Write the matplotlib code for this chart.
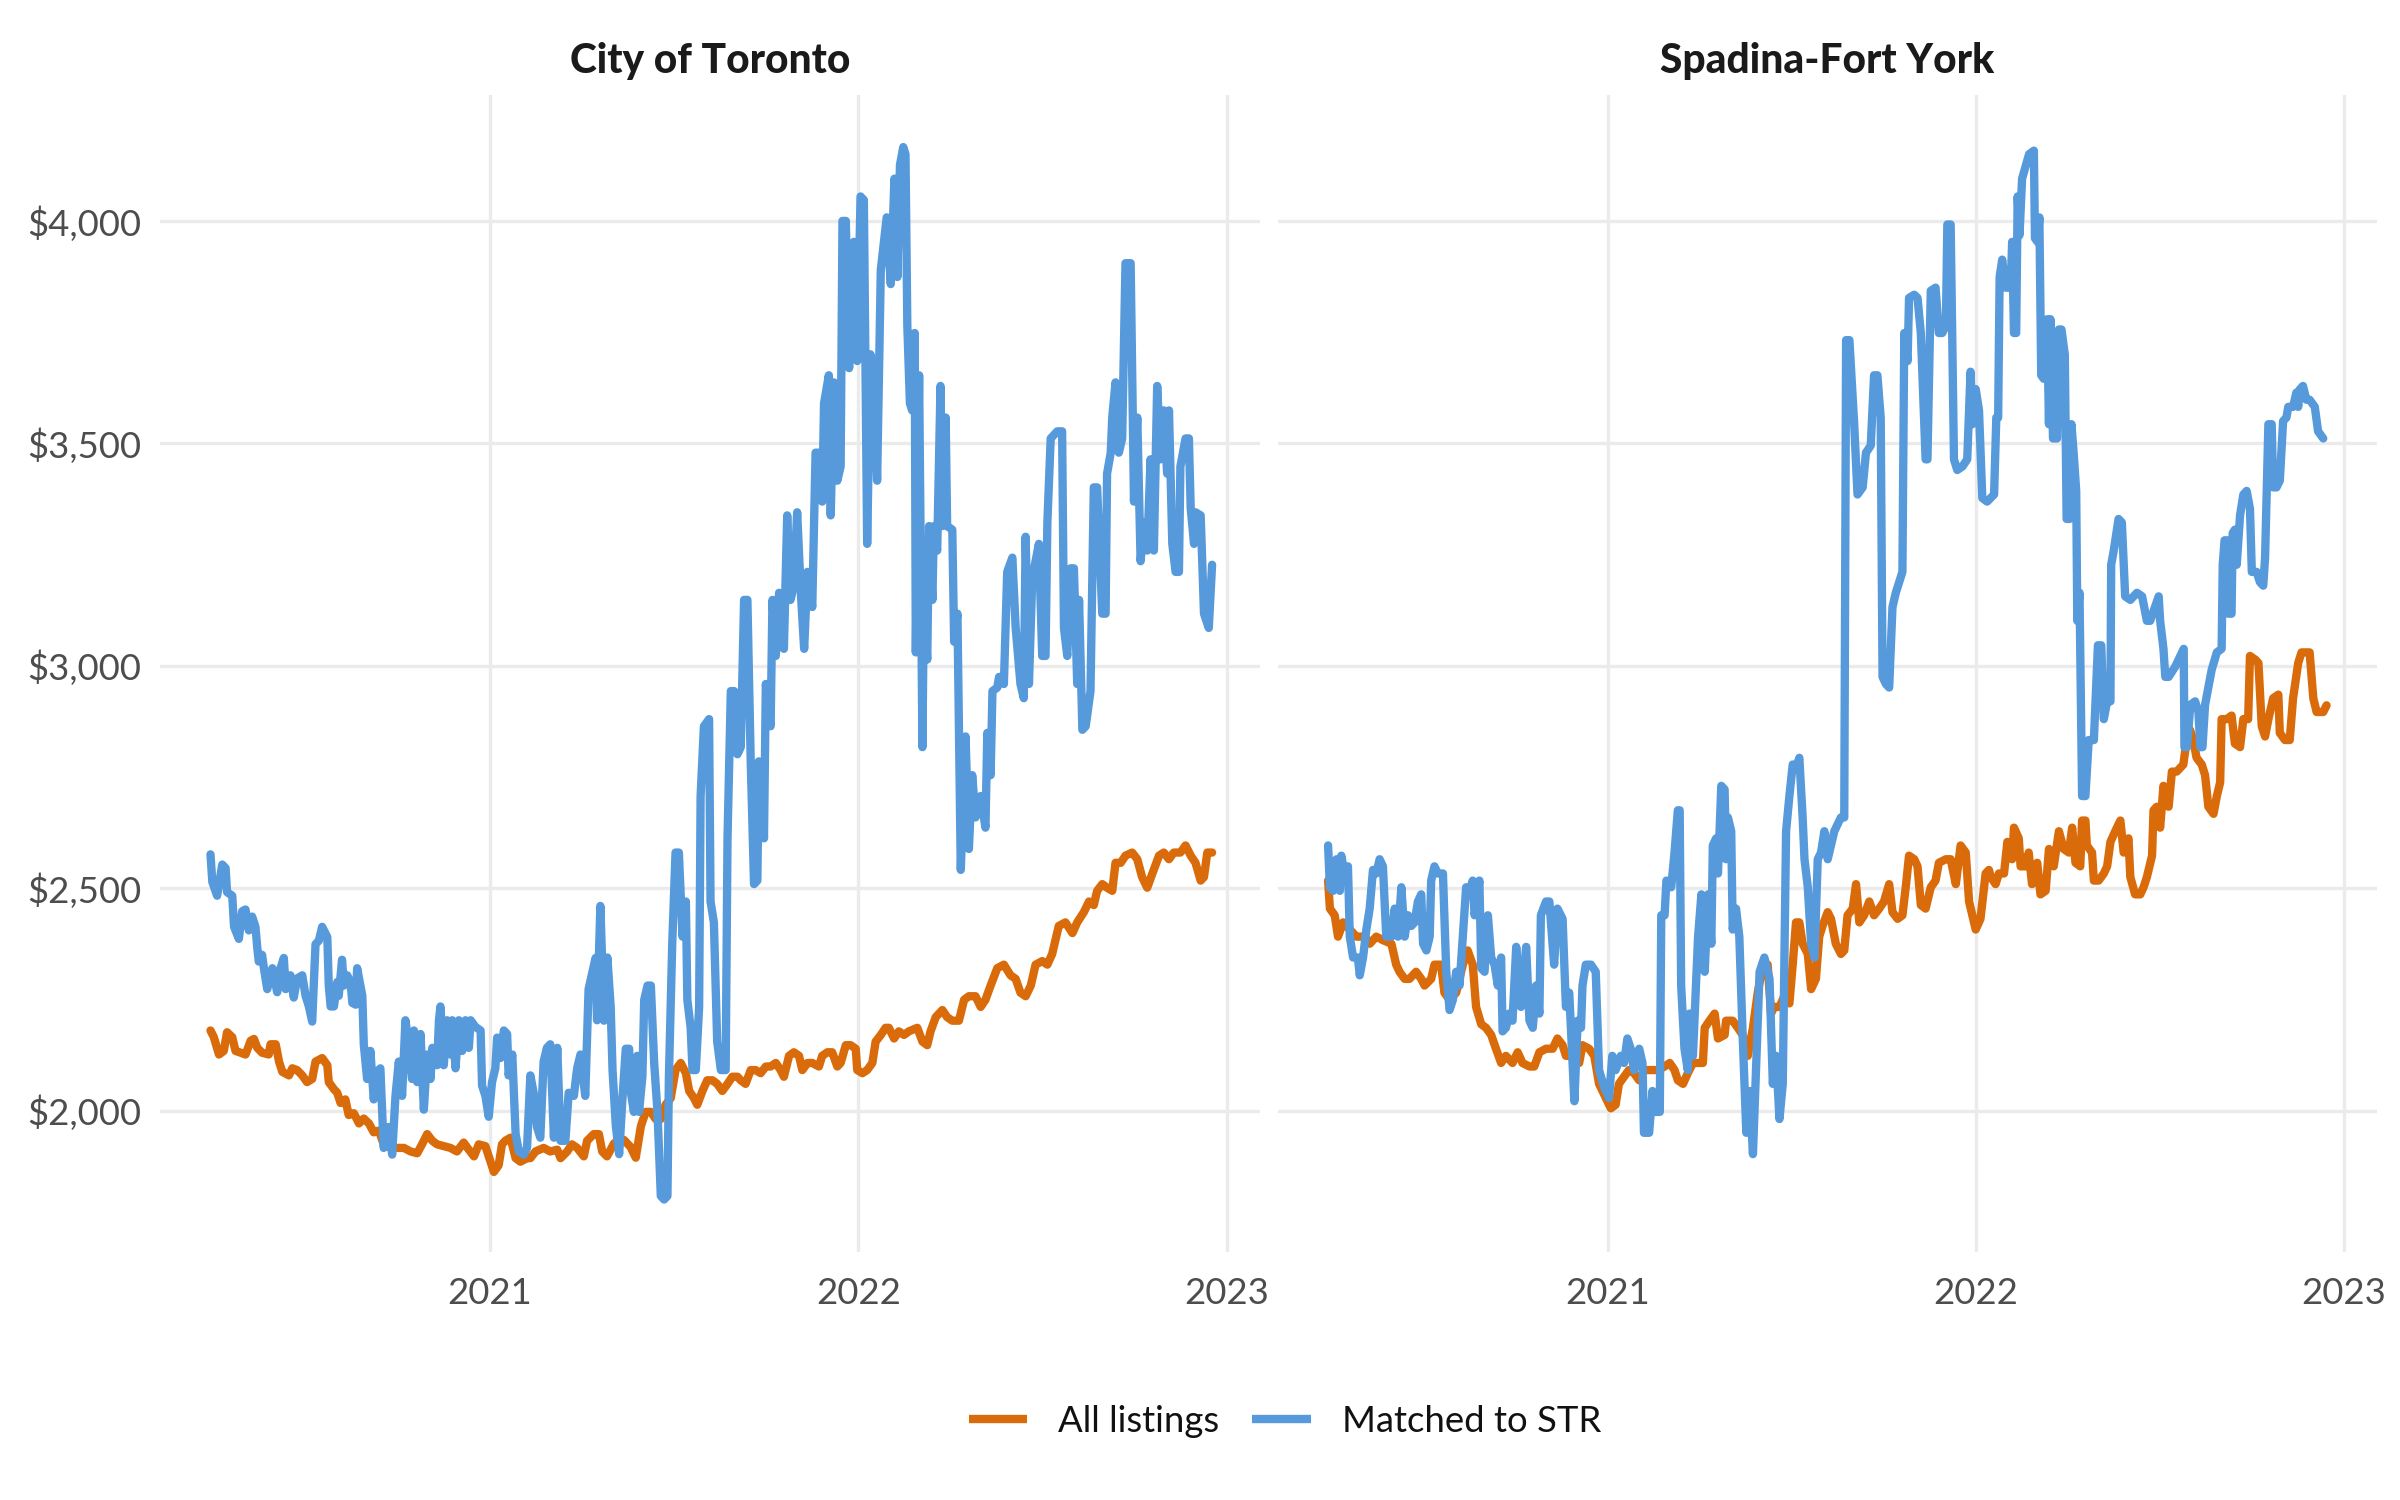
import matplotlib
matplotlib.use("Agg")
import matplotlib.pyplot as plt
from matplotlib.lines import Line2D

# ---------------- data ----------------
panel_titles = ["City of Toronto", "Spadina-Fort York"]
series_labels = ["All listings", "Matched to STR"]
x_ticks = [2021, 2022, 2023]
x_tick_labels = ["2021", "2022", "2023"]
y_ticks = [2000, 2500, 3000, 3500, 4000]
y_tick_labels = ["$2,000", "$2,500", "$3,000", "$3,500", "$4,000"]

# City of Toronto - Matched to STR (date as decimal year, monthly rent $)
city_str_t = [
    2020.242, 2020.247, 2020.260, 2020.274, 2020.283, 2020.287, 2020.301, 2020.306, 2020.319, 2020.328,
    2020.337, 2020.346, 2020.355, 2020.364, 2020.369, 2020.373, 2020.382, 2020.387, 2020.396, 2020.410,
    2020.423, 2020.432, 2020.441, 2020.446, 2020.459, 2020.468, 2020.477, 2020.491, 2020.500, 2020.509,
    2020.518, 2020.527, 2020.536, 2020.545, 2020.559, 2020.563, 2020.568, 2020.577, 2020.586, 2020.590,
    2020.599, 2020.604, 2020.613, 2020.622, 2020.627, 2020.636, 2020.640, 2020.654, 2020.658, 2020.667,
    2020.676, 2020.685, 2020.694, 2020.703, 2020.708, 2020.712, 2020.726, 2020.735, 2020.744, 2020.753,
    2020.762, 2020.771, 2020.780, 2020.789, 2020.794, 2020.803, 2020.812, 2020.821, 2020.830, 2020.839,
    2020.844, 2020.857, 2020.862, 2020.866, 2020.875, 2020.884, 2020.893, 2020.898, 2020.907, 2020.916,
    2020.925, 2020.934, 2020.943, 2020.948, 2020.961, 2020.975, 2020.979, 2020.988, 2020.997, 2021.006,
    2021.015, 2021.020, 2021.029, 2021.038, 2021.047, 2021.051, 2021.061, 2021.070, 2021.079, 2021.092,
    2021.101, 2021.110, 2021.119, 2021.128, 2021.137, 2021.146, 2021.155, 2021.164, 2021.174, 2021.183,
    2021.192, 2021.205, 2021.214, 2021.228, 2021.237, 2021.246, 2021.259, 2021.268, 2021.287, 2021.291,
    2021.300,
    2021.310, 2021.319, 2021.328, 2021.333, 2021.342, 2021.351, 2021.360, 2021.369, 2021.378, 2021.382,
    2021.391, 2021.400, 2021.405, 2021.414, 2021.419, 2021.428, 2021.437, 2021.446, 2021.455, 2021.464,
    2021.473, 2021.482, 2021.486, 2021.495, 2021.504, 2021.513, 2021.523, 2021.532, 2021.536, 2021.545,
    2021.550, 2021.559, 2021.568, 2021.572, 2021.581, 2021.595, 2021.599, 2021.608, 2021.617, 2021.627,
    2021.640, 2021.645, 2021.654, 2021.663, 2021.672, 2021.681, 2021.690, 2021.699, 2021.708, 2021.717,
    2021.726, 2021.730, 2021.744, 2021.749, 2021.762, 2021.767, 2021.776, 2021.785, 2021.798, 2021.807,
    2021.816, 2021.825, 2021.834, 2021.844, 2021.853, 2021.862, 2021.875, 2021.884, 2021.893, 2021.902,
    2021.907, 2021.920, 2021.925, 2021.934, 2021.943, 2021.952, 2021.957, 2021.966, 2021.975, 2021.988,
    2021.997, 2022.006, 2022.015, 2022.024, 2022.033, 2022.042, 2022.051, 2022.061, 2022.077, 2022.088,
    2022.098, 2022.106, 2022.113, 2022.122, 2022.128, 2022.133, 2022.140, 2022.146, 2022.153,
    2022.156, 2022.165, 2022.174, 2022.178, 2022.187, 2022.192, 2022.201, 2022.205, 2022.214, 2022.223,
    2022.228, 2022.237, 2022.241, 2022.255, 2022.260, 2022.269, 2022.278, 2022.291, 2022.300, 2022.309,
    2022.318, 2022.332, 2022.345, 2022.350, 2022.359, 2022.364, 2022.377, 2022.382, 2022.395, 2022.404,
    2022.418, 2022.427, 2022.440, 2022.449, 2022.454, 2022.463, 2022.472, 2022.490, 2022.499, 2022.508,
    2022.513, 2022.522, 2022.540, 2022.553, 2022.558, 2022.567, 2022.576, 2022.585, 2022.594, 2022.599,
    2022.608, 2022.617, 2022.630, 2022.639, 2022.648, 2022.662, 2022.671, 2022.675, 2022.685, 2022.689,
    2022.698, 2022.707, 2022.716, 2022.725, 2022.739, 2022.748, 2022.757, 2022.766, 2022.775, 2022.784,
    2022.793, 2022.802, 2022.811, 2022.820, 2022.829, 2022.838, 2022.843, 2022.852, 2022.861, 2022.870,
    2022.874, 2022.888, 2022.897, 2022.902, 2022.911, 2022.915, 2022.929, 2022.938, 2022.951, 2022.960,
]
city_str_v = [
    2576, 2514, 2483, 2553, 2545, 2491, 2483, 2413, 2386, 2448,
    2452, 2405, 2436, 2413, 2366, 2335, 2350, 2320, 2273, 2320,
    2266, 2320, 2343, 2273, 2304, 2254, 2297, 2304, 2258, 2234,
    2200, 2374, 2382, 2413, 2390, 2281, 2234, 2234, 2289, 2258,
    2339, 2281, 2304, 2289, 2242, 2238, 2320, 2258, 2149, 2071,
    2134, 2025, 2087, 2095, 1994, 1916, 1963, 1901, 2033, 2110,
    2033, 2203, 2149, 2071, 2180, 2064, 2172, 2002, 2126, 2071,
    2141, 2102, 2203, 2234, 2102, 2203, 2126, 2203, 2095, 2203,
    2134, 2203, 2141, 2203, 2188, 2180, 2056, 2033, 1986, 2064,
    2095, 2164, 2118, 2180, 2172, 2079, 2126, 1947, 1908, 1901,
    1916, 2079, 2040, 1963, 1939, 2110, 2141, 2149, 1939, 2141,
    1932, 1932, 2040, 2033, 2095, 2126, 2033, 2273, 2343, 2203,
    2460,
    2202, 2344, 2233, 2091, 1965, 1902, 2028, 2139, 2139, 2044,
    1997, 2123, 1997, 2076, 2249, 2281, 2281, 2107, 1997, 1808,
    1800, 1808, 2076, 2375, 2580, 2580, 2391, 2470, 2249, 2186,
    2091, 2091, 2233, 2707, 2864, 2880, 2470, 2423, 2155, 2091,
    2091, 2612, 2943, 2943, 2801, 2817, 3148, 3148, 2785, 2509,
    2517, 2785, 2612, 2959, 2864, 3148, 3022, 3164, 3038, 3338,
    3148, 3180, 3345, 3164, 3038, 3211, 3132, 3479, 3479, 3369,
    3590, 3653, 3338, 3637, 3416, 3448, 4000, 4000, 3669, 3953,
    3685, 4055, 4047, 3274, 3700, 3653, 3416, 3890, 4008, 3858,
    4095, 3874, 4126, 4166, 4150, 3763, 3590, 3574, 3748,
    3030, 3653, 2817, 3164, 3014, 3314, 3148, 3314, 3259, 3629,
    3314, 3558, 3314, 3306, 3054, 3117, 2541, 2841, 2588, 2754,
    2659, 2707, 2636, 2849, 2754, 2943, 2951, 2975, 2959, 3211,
    3243, 3085, 2959, 2927, 3290, 2959, 3196, 3274, 3022, 3022,
    3322, 3511, 3527, 3527, 3085, 3022, 3219, 3219, 2959, 3148,
    2856, 2864, 2943, 3401, 3401, 3117, 3117, 3432, 3479, 3558,
    3637, 3479, 3511, 3905, 3905, 3369, 3558, 3235, 3322, 3259,
    3464, 3259, 3629, 3464, 3574, 3432, 3574, 3274, 3211, 3211,
    3448, 3511, 3511, 3353, 3274, 3345, 3338, 3117, 3085, 3227,
]

# City of Toronto - All listings
city_all_t = [
    2020.242, 2020.251, 2020.265, 2020.278, 2020.287, 2020.301, 2020.310, 2020.324, 2020.337, 2020.351,
    2020.360, 2020.369, 2020.382, 2020.400, 2020.405, 2020.419, 2020.428, 2020.437, 2020.455, 2020.464,
    2020.477, 2020.491, 2020.504, 2020.518, 2020.527, 2020.545, 2020.559, 2020.563, 2020.577, 2020.586,
    2020.595, 2020.608, 2020.617, 2020.631, 2020.645, 2020.658, 2020.672, 2020.685, 2020.699, 2020.712,
    2020.731, 2020.749, 2020.767, 2020.785, 2020.803, 2020.816, 2020.830, 2020.844, 2020.857, 2020.875,
    2020.893, 2020.911, 2020.929, 2020.943, 2020.957, 2020.970, 2020.988, 2021.002, 2021.011, 2021.024,
    2021.033, 2021.042, 2021.056, 2021.070, 2021.083, 2021.101, 2021.110, 2021.124, 2021.146, 2021.164,
    2021.183, 2021.192, 2021.210, 2021.223, 2021.237, 2021.255, 2021.264, 2021.282, 2021.296, 2021.305,
    2021.318,
    2021.337, 2021.351, 2021.364, 2021.382, 2021.396, 2021.410, 2021.423, 2021.437, 2021.450, 2021.464,
    2021.477, 2021.491, 2021.504, 2021.518, 2021.532, 2021.541, 2021.554, 2021.563, 2021.577, 2021.590,
    2021.604, 2021.617, 2021.631, 2021.645, 2021.658, 2021.672, 2021.681, 2021.694, 2021.708, 2021.721,
    2021.735, 2021.749, 2021.762, 2021.776, 2021.789, 2021.798, 2021.812, 2021.825, 2021.839, 2021.848,
    2021.862, 2021.875, 2021.893, 2021.902, 2021.916, 2021.929, 2021.943, 2021.952, 2021.966, 2021.979,
    2021.993, 2021.997, 2022.011, 2022.024, 2022.038, 2022.047, 2022.061, 2022.074, 2022.083, 2022.097,
    2022.110, 2022.124, 2022.137,
    2022.160, 2022.174, 2022.187, 2022.196, 2022.210, 2022.228, 2022.241, 2022.255, 2022.273, 2022.287,
    2022.300, 2022.318, 2022.332, 2022.345, 2022.359, 2022.377, 2022.395, 2022.413, 2022.427, 2022.440,
    2022.454, 2022.468, 2022.481, 2022.499, 2022.513, 2022.526, 2022.544, 2022.562, 2022.581, 2022.594,
    2022.612, 2022.626, 2022.639, 2022.648, 2022.662, 2022.675, 2022.689, 2022.698, 2022.712, 2022.725,
    2022.743, 2022.757, 2022.770, 2022.784, 2022.798, 2022.816, 2022.829, 2022.843, 2022.856, 2022.874,
    2022.888, 2022.902, 2022.915, 2022.929, 2022.938, 2022.947, 2022.960,
]
city_all_v = [
    2180, 2165, 2126, 2134, 2176, 2165, 2134, 2130, 2126, 2157,
    2161, 2141, 2130, 2126, 2149, 2149, 2110, 2087, 2079, 2095,
    2091, 2079, 2064, 2071, 2110, 2118, 2102, 2064, 2048, 2040,
    2017, 2025, 1990, 1994, 1971, 1982, 1971, 1951, 1955, 1924,
    1916, 1916, 1916, 1908, 1904, 1924, 1947, 1932, 1924, 1920,
    1916, 1908, 1928, 1912, 1897, 1924, 1920, 1885, 1862, 1877,
    1924, 1932, 1939, 1893, 1885, 1893, 1893, 1908, 1916, 1908,
    1912, 1893, 1908, 1924, 1916, 1897, 1932, 1947, 1947, 1908,
    1897,
    1926, 1934, 1934, 1918, 1894, 1965, 1997, 1997, 1981, 1981,
    2013, 2028, 2091, 2107, 2084, 2044, 2028, 2013, 2044, 2068,
    2068, 2060, 2044, 2060, 2076, 2076, 2068, 2060, 2091, 2091,
    2084, 2099, 2099, 2107, 2091, 2076, 2123, 2131, 2123, 2091,
    2107, 2107, 2099, 2123, 2131, 2131, 2099, 2107, 2147, 2147,
    2139, 2091, 2084, 2091, 2107, 2155, 2170, 2186, 2186, 2162,
    2178, 2170, 2178,
    2186, 2155, 2147, 2178, 2210, 2226, 2210, 2202, 2202, 2249,
    2257, 2257, 2233, 2249, 2281, 2320, 2328, 2304, 2296, 2265,
    2257, 2281, 2328, 2336, 2328, 2352, 2415, 2423, 2399, 2423,
    2446, 2470, 2462, 2494, 2509, 2501, 2494, 2557, 2557, 2573,
    2580, 2565, 2525, 2501, 2533, 2573, 2580, 2565, 2580, 2580,
    2596, 2573, 2557, 2517, 2525, 2580, 2580,
]

# Spadina-Fort York - Matched to STR
spa_str_t = [
    2020.241, 2020.246, 2020.255, 2020.264, 2020.273, 2020.277, 2020.286, 2020.295, 2020.300, 2020.309,
    2020.322, 2020.327, 2020.336, 2020.345, 2020.354, 2020.363, 2020.372, 2020.381, 2020.390, 2020.399,
    2020.413, 2020.422, 2020.431, 2020.440, 2020.449, 2020.458, 2020.467, 2020.476, 2020.485, 2020.494,
    2020.499, 2020.508, 2020.517, 2020.521, 2020.530, 2020.539, 2020.553, 2020.562, 2020.571, 2020.580,
    2020.589, 2020.598, 2020.607, 2020.616, 2020.625, 2020.634, 2020.639, 2020.652, 2020.657, 2020.666,
    2020.675, 2020.684, 2020.693, 2020.702, 2020.711, 2020.715, 2020.724, 2020.733, 2020.742, 2020.752,
    2020.765, 2020.779, 2020.788, 2020.797, 2020.806, 2020.815, 2020.819, 2020.833, 2020.842, 2020.855,
    2020.864, 2020.878, 2020.887, 2020.896, 2020.910, 2020.919, 2020.928, 2020.932, 2020.941, 2020.955,
    2020.968, 2020.977, 2020.991, 2021.004, 2021.013, 2021.022, 2021.036, 2021.045, 2021.054, 2021.063,
    2021.072, 2021.086, 2021.095, 2021.099, 2021.113, 2021.122,
    2021.128, 2021.142, 2021.146, 2021.155, 2021.160, 2021.173, 2021.182, 2021.191, 2021.196, 2021.200,
    2021.209, 2021.218, 2021.223, 2021.232, 2021.246, 2021.255, 2021.264, 2021.273, 2021.282, 2021.286,
    2021.295, 2021.300, 2021.309, 2021.318, 2021.322, 2021.327, 2021.336, 2021.340, 2021.349, 2021.358,
    2021.367, 2021.377, 2021.386, 2021.395, 2021.404, 2021.413, 2021.426, 2021.440, 2021.449, 2021.458,
    2021.467, 2021.476, 2021.485, 2021.494, 2021.503, 2021.512, 2021.521, 2021.530, 2021.535, 2021.544,
    2021.553, 2021.562, 2021.571, 2021.580, 2021.589, 2021.598, 2021.607, 2021.616, 2021.634, 2021.643,
    2021.648, 2021.657, 2021.670, 2021.679, 2021.693, 2021.702, 2021.715, 2021.724, 2021.733, 2021.742,
    2021.747, 2021.756, 2021.765, 2021.774, 2021.783, 2021.801, 2021.806, 2021.815, 2021.819, 2021.833,
    2021.842, 2021.851, 2021.864, 2021.869, 2021.878, 2021.891, 2021.900, 2021.909, 2021.919, 2021.923,
    2021.932, 2021.941, 2021.950, 2021.964, 2021.977, 2021.986, 2021.991, 2022.000, 2022.009, 2022.018,
    2022.031,
    2022.050, 2022.056, 2022.061, 2022.065, 2022.072, 2022.081, 2022.095, 2022.099, 2022.104, 2022.110,
    2022.114, 2022.119, 2022.126, 2022.145, 2022.158, 2022.161, 2022.168, 2022.173, 2022.178, 2022.185,
    2022.194, 2022.199, 2022.203, 2022.210, 2022.221, 2022.226, 2022.233, 2022.242, 2022.247, 2022.255,
    2022.260, 2022.266, 2022.273, 2022.276, 2022.282, 2022.289, 2022.298, 2022.307, 2022.321, 2022.332,
    2022.341, 2022.348, 2022.357, 2022.366, 2022.368, 2022.375, 2022.388, 2022.397, 2022.406, 2022.420,
    2022.438, 2022.452, 2022.465, 2022.474, 2022.497, 2022.501, 2022.510, 2022.515, 2022.524, 2022.542,
    2022.565, 2022.567, 2022.574, 2022.583, 2022.596, 2022.605, 2022.610, 2022.616, 2022.623, 2022.641,
    2022.655, 2022.668, 2022.671, 2022.676, 2022.682, 2022.686, 2022.695, 2022.698, 2022.704, 2022.709,
    2022.718, 2022.727, 2022.736, 2022.745, 2022.750, 2022.763, 2022.772, 2022.781, 2022.786, 2022.795,
    2022.804, 2022.808, 2022.817, 2022.826, 2022.835, 2022.844, 2022.849, 2022.862, 2022.871, 2022.876,
    2022.880, 2022.889, 2022.898, 2022.907, 2022.921, 2022.930, 2022.944,
]
spa_str_v = [
    2596, 2502, 2494, 2565, 2494, 2573, 2533, 2549, 2391, 2344,
    2344, 2304, 2344, 2407, 2454, 2541, 2533, 2565, 2549, 2391,
    2391, 2454, 2391, 2502, 2391, 2439, 2415, 2423, 2470, 2486,
    2375, 2360, 2391, 2517, 2549, 2533, 2533, 2312, 2226, 2249,
    2312, 2281, 2391, 2502, 2494, 2517, 2439, 2517, 2320, 2312,
    2439, 2344, 2328, 2281, 2344, 2178, 2186, 2218, 2202, 2368,
    2233, 2368, 2202, 2186, 2281, 2218, 2439, 2470, 2470, 2328,
    2454, 2431, 2233, 2265, 2021, 2202, 2186, 2281, 2328, 2328,
    2312, 2091, 2052, 2028, 2123, 2091, 2123, 2107, 2162, 2139,
    2091, 2139, 2107, 1950, 1950, 2044,
    1997, 1997, 2439, 2439, 2517, 2502, 2580, 2675, 2675, 2281,
    2139, 2091, 2218, 2123, 2391, 2486, 2312, 2486, 2375, 2596,
    2612, 2533, 2730, 2722, 2565, 2659, 2628, 2407, 2454, 2391,
    2170, 1950, 2044, 1902, 2107, 2312, 2344, 2296, 2060, 2123,
    1981, 2060, 2628, 2707, 2778, 2770, 2793, 2659, 2565, 2502,
    2375, 2344, 2565, 2580, 2628, 2565, 2596, 2628, 2659, 2659,
    3732, 3732, 3543, 3385, 3401, 3479, 3495, 3653, 3653, 3558,
    2975, 2959, 2951, 3132, 3164, 3211, 3748, 3685, 3827, 3834,
    3827, 3748, 3464, 3464, 3843, 3850, 3748, 3748, 3763, 3992,
    3992, 3464, 3440, 3448, 3464, 3661, 3543, 3622, 3574, 3377,
    3369,
    3385, 3558, 3558, 3874, 3913, 3850, 3850, 3953, 3748, 3748,
    4055, 3968, 4095, 4150, 4158, 3961, 3953, 4008, 3653, 3645,
    3779, 3543, 3779, 3511, 3511, 3756, 3756, 3700, 3330, 3330,
    3543, 3479, 3393, 3101, 3164, 2707, 2707, 2833, 2833, 3046,
    3046, 2880, 2920, 2920, 3227, 3259, 3330, 3322, 3156, 3148,
    3164, 3156, 3101, 3101, 3156, 3101, 3038, 2975, 2975, 2998,
    3038, 2817, 2817, 2912, 2920, 2896, 2817, 2817, 2912, 2991,
    3030, 3038, 3227, 3282, 3282, 3117, 3117, 3298, 3306, 3227,
    3338, 3385, 3393, 3353, 3211, 3211, 3188, 3180, 3243, 3543,
    3543, 3401, 3401, 3416, 3550, 3558, 3582, 3582, 3614, 3582,
    3621, 3629, 3598, 3598, 3582, 3527, 3511,
]

# Spadina-Fort York - All listings
spa_all_t = [
    2020.241, 2020.246, 2020.259, 2020.268, 2020.282, 2020.300, 2020.318, 2020.341, 2020.354, 2020.372,
    2020.390, 2020.413, 2020.426, 2020.435, 2020.449, 2020.462, 2020.480, 2020.494, 2020.503, 2020.521,
    2020.530, 2020.548, 2020.557, 2020.571, 2020.589, 2020.607, 2020.620, 2020.634, 2020.643, 2020.657,
    2020.670, 2020.684, 2020.697, 2020.711, 2020.724, 2020.742, 2020.756, 2020.769, 2020.788, 2020.801,
    2020.815, 2020.833, 2020.851, 2020.864, 2020.878, 2020.887, 2020.905, 2020.923, 2020.932, 2020.950,
    2020.964, 2020.977, 2020.991, 2021.009, 2021.022, 2021.031, 2021.045, 2021.058, 2021.072, 2021.086,
    2021.099, 2021.113,
    2021.137, 2021.155, 2021.169, 2021.182, 2021.191, 2021.205, 2021.218, 2021.232, 2021.246, 2021.259,
    2021.264, 2021.277, 2021.291, 2021.300, 2021.318, 2021.322, 2021.340, 2021.354, 2021.367, 2021.381,
    2021.395, 2021.408, 2021.422, 2021.435, 2021.444, 2021.453, 2021.467, 2021.480, 2021.494, 2021.503,
    2021.512, 2021.521, 2021.530, 2021.544, 2021.553, 2021.566, 2021.575, 2021.584, 2021.598, 2021.607,
    2021.620, 2021.634, 2021.643, 2021.652, 2021.666, 2021.675, 2021.684, 2021.697, 2021.711, 2021.724,
    2021.738, 2021.751, 2021.765, 2021.774, 2021.788, 2021.801, 2021.810, 2021.819, 2021.833, 2021.842,
    2021.851, 2021.864, 2021.878, 2021.891, 2021.900, 2021.919, 2021.932, 2021.946, 2021.959, 2021.973,
    2021.982, 2022.000, 2022.013, 2022.027, 2022.036,
    2022.041, 2022.054, 2022.063, 2022.077, 2022.086, 2022.099, 2022.104, 2022.117, 2022.122, 2022.135,
    2022.144, 2022.153, 2022.167, 2022.176, 2022.190, 2022.199, 2022.212, 2022.226, 2022.239, 2022.253,
    2022.262, 2022.271, 2022.284, 2022.289, 2022.298, 2022.302, 2022.316, 2022.321, 2022.334, 2022.348,
    2022.357, 2022.366, 2022.379, 2022.393, 2022.402, 2022.415, 2022.420, 2022.433, 2022.447, 2022.456,
    2022.465, 2022.479, 2022.483, 2022.492, 2022.501, 2022.510, 2022.524, 2022.533, 2022.546, 2022.564,
    2022.569, 2022.582, 2022.591, 2022.600, 2022.614, 2022.623, 2022.632, 2022.646, 2022.655, 2022.664,
    2022.668, 2022.682, 2022.695, 2022.704, 2022.718, 2022.727, 2022.740, 2022.745, 2022.759, 2022.768,
    2022.777, 2022.786, 2022.795, 2022.808, 2022.822, 2022.826, 2022.840, 2022.853, 2022.862, 2022.876,
    2022.885, 2022.898, 2022.907, 2022.917, 2022.926, 2022.944, 2022.953,
]
spa_all_v = [
    2517, 2454, 2439, 2391, 2423, 2407, 2391, 2391, 2375, 2391,
    2383, 2375, 2328, 2312, 2296, 2296, 2312, 2296, 2281, 2296,
    2328, 2328, 2265, 2249, 2265, 2328, 2360, 2328, 2233, 2194,
    2186, 2170, 2139, 2107, 2123, 2107, 2131, 2107, 2099, 2099,
    2131, 2139, 2139, 2162, 2147, 2123, 2123, 2107, 2147, 2139,
    2123, 2060, 2036, 2005, 2013, 2060, 2076, 2091, 2084, 2068,
    2091, 2091,
    2091, 2099, 2107, 2091, 2068, 2060, 2084, 2107, 2107, 2107,
    2186, 2202, 2218, 2162, 2170, 2202, 2202, 2186, 2170, 2123,
    2186, 2265, 2328, 2328, 2218, 2233, 2233, 2257, 2241, 2328,
    2423, 2423, 2375, 2352, 2273, 2296, 2391, 2415, 2446, 2431,
    2375, 2352, 2360, 2439, 2454, 2509, 2423, 2439, 2470, 2439,
    2454, 2470, 2509, 2446, 2431, 2439, 2502, 2573, 2565, 2549,
    2462, 2454, 2502, 2517, 2557, 2565, 2565, 2509, 2596, 2580,
    2470, 2407, 2431, 2533, 2541,
    2525, 2509, 2533, 2533, 2604, 2565, 2636, 2612, 2549, 2549,
    2580, 2509, 2557, 2486, 2494, 2588, 2549, 2628, 2588, 2580,
    2636, 2557, 2549, 2652, 2652, 2596, 2580, 2517, 2517, 2533,
    2549, 2604, 2628, 2652, 2580, 2612, 2525, 2486, 2486, 2502,
    2525, 2573, 2675, 2683, 2636, 2730, 2683, 2762, 2762, 2778,
    2809, 2856, 2833, 2793, 2778, 2754, 2683, 2667, 2707, 2738,
    2880, 2880, 2888, 2825, 2817, 2880, 2880, 3022, 3014, 3006,
    2864, 2841, 2880, 2927, 2935, 2849, 2833, 2833, 2927, 3006,
    3030, 3030, 3030, 2927, 2896, 2896, 2911,
]

# ---------------- style ----------------
COL_ALL = "#D96B0B"
COL_STR = "#569ADB"
GRID = "#EBEBEB"
FONT = ["Lato", "DejaVu Sans"]
plt.rcParams["font.family"] = FONT

W, H = 2400, 1500
fig = plt.figure(figsize=(16, 10), dpi=150)
bottom = 1 - 1252 / H
height = (1252 - 94.6) / H
ax1 = fig.add_axes([160 / W, bottom, 1100 / W, height])
ax2 = fig.add_axes([1278 / W, bottom, 1099 / W, height])

panels = [
    (ax1, panel_titles[0], city_all_t, city_all_v, city_str_t, city_str_v),
    (ax2, panel_titles[1], spa_all_t, spa_all_v, spa_str_t, spa_str_v),
]

LW = 4.0
for ax, title, at, av, st, sv in panels:
    ax.plot(at, av, color=COL_ALL, lw=LW, solid_joinstyle="round", solid_capstyle="round", zorder=3)
    ax.plot(st, sv, color=COL_STR, lw=LW, solid_joinstyle="round", solid_capstyle="round", zorder=4)
    ax.set_xlim(2020.105, 2023.09)
    ax.set_ylim(1682, 4284)
    ax.set_xticks(x_ticks)
    ax.set_xticklabels(x_tick_labels)
    ax.set_yticks(y_ticks)
    ax.set_yticklabels(y_tick_labels)
    ax.grid(True, color=GRID, lw=1.6)
    ax.set_axisbelow(True)
    for s in ax.spines.values():
        s.set_visible(False)
    ax.tick_params(length=0, labelsize=17.5, labelcolor="#4D4D4D")
    ax.tick_params(axis="x", pad=12)
    ax.tick_params(axis="y", pad=9)
    ax.set_title(title, fontsize=19.5, fontweight="black", color="#1A1A1A", pad=10.5)

ax2.tick_params(axis="y", labelleft=False)

handles = [Line2D([], [], color=COL_ALL, lw=LW, solid_capstyle="butt"),
           Line2D([], [], color=COL_STR, lw=LW, solid_capstyle="butt")]
leg = fig.legend(handles, series_labels, loc="center", bbox_to_anchor=(1285 / W, 1 - 1421 / H),
                 ncol=2, frameon=False, fontsize=17.5, handlelength=1.6,
                 handletextpad=0.85, columnspacing=0.9)
for t in leg.get_texts():
    t.set_color("#111111")

fig.savefig("out.png", dpi=150, facecolor="white")
